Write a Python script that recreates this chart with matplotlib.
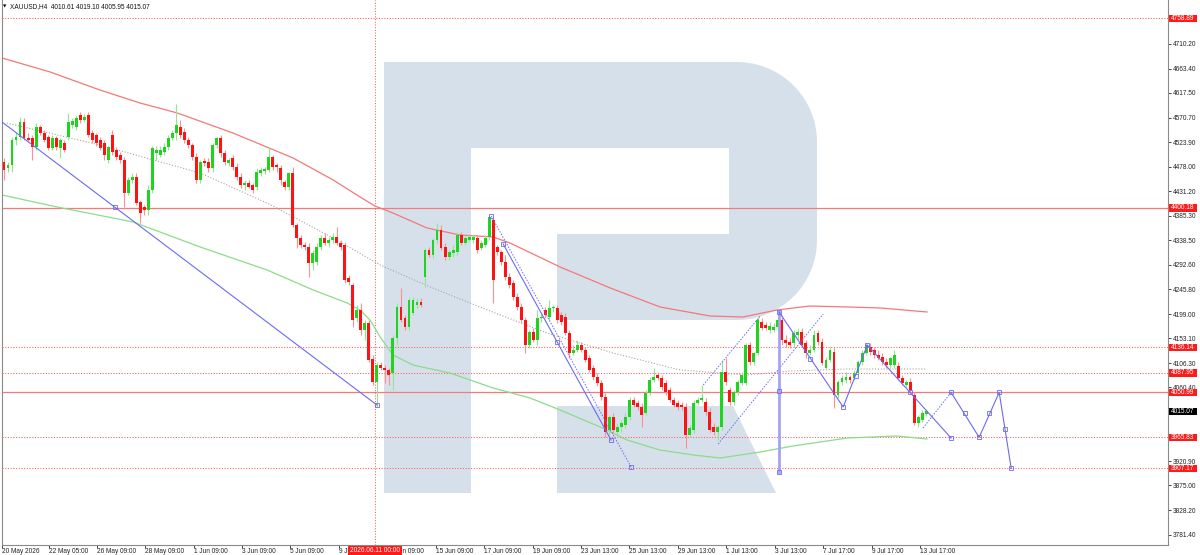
import numpy as np
import matplotlib
matplotlib.use("Agg")
import matplotlib.pyplot as plt
from matplotlib.patches import Rectangle, Polygon
from matplotlib.transforms import IdentityTransform

plt.rcParams['font.family'] = ['Liberation Sans', 'DejaVu Sans']

# ---------------- data ----------------
symbol = "XAUUSD,H4"
header_ohlc = ["4010.61", "4019.10", "4005.95", "4015.07"]

opens = [4487.0, 4475.6, 4481.3, 4528.6, 4534.3, 4562.6, 4532.4, 4532.4, 4515.3, 4553.2,
         4541.8, 4534.3, 4513.5, 4532.4, 4513.5, 4522.9, 4534.3, 4557.0, 4553.2, 4575.9,
         4566.4, 4575.9, 4541.8, 4538.0, 4528.6, 4522.9, 4490.7, 4538.0, 4509.7, 4500.2,
         4490.7, 4428.3, 4452.9, 4458.6, 4411.3, 4401.9, 4396.2, 4434.0, 4504.0, 4500.2,
         4505.9, 4515.3, 4532.4, 4541.8, 4553.2, 4543.7, 4528.6, 4519.1, 4496.4, 4452.9,
         4488.9, 4487.0, 4475.6, 4519.1, 4532.4, 4504.0, 4485.1, 4494.5, 4477.5, 4458.6,
         4443.5, 4447.2, 4443.5, 4439.7, 4466.2, 4469.9, 4471.8, 4496.4, 4481.3, 4475.6,
         4449.1, 4439.7, 4466.2, 4367.8, 4343.2, 4330.0, 4326.2, 4295.9, 4297.8, 4326.2,
         4343.2, 4333.7, 4339.4, 4345.1, 4333.7, 4330.0, 4267.5, 4254.3, 4191.8, 4207.0,
         4169.1, 4182.4, 4114.3, 4070.8, 4102.9, 4097.3, 4093.5, 4087.8, 4154.0, 4212.6,
         4191.8, 4174.8, 4201.3, 4216.4, 4222.1, 4269.4, 4320.5, 4311.0, 4339.4, 4358.4,
         4326.2, 4307.2, 4314.8, 4316.7, 4348.9, 4333.7, 4339.4, 4339.4, 4343.2, 4324.3,
         4330.0, 4345.1, 4377.3, 4326.2, 4316.7, 4297.8, 4269.4, 4258.1, 4231.6, 4212.6,
         4188.0, 4140.8, 4165.4, 4150.2, 4191.8, 4207.0, 4193.7, 4210.8, 4210.8, 4197.5,
         4193.7, 4163.5, 4125.6, 4131.3, 4140.8, 4131.3, 4116.2, 4097.3, 4080.2, 4068.9,
         4042.4, 3979.9, 4004.6, 3976.2, 3985.6, 3989.4, 4004.6, 4036.7, 4031.0, 4023.5,
         4012.1, 4050.0, 4074.6, 4084.0, 4078.3, 4068.9, 4055.6, 4036.7, 4031.0, 4027.2,
         4023.5, 3970.5, 3979.9, 4031.0, 4036.7, 4032.9, 4014.0, 3985.6, 3976.2, 3985.6,
         4089.7, 4055.6, 4032.9, 4051.9, 4068.9, 4068.9, 4140.8, 4108.6, 4125.6, 4184.3,
         4178.6, 4169.1, 4169.1, 4174.8, 4188.0, 4150.2, 4146.4, 4144.5, 4159.7, 4165.4,
         4144.5, 4125.6, 4131.3, 4163.5, 4146.4, 4097.3, 4112.4, 4127.5, 4046.2, 4070.8,
         4074.6, 4080.2, 4078.3, 4087.8, 4108.6, 4125.6, 4137.0, 4131.3, 4121.8, 4118.1,
         4108.6, 4102.9, 4102.9, 4101.0, 4078.3, 4065.1, 4070.8, 4046.2, 3993.2, 3998.9,
         4010.61]
highs = [4494.5, 4487.0, 4534.3, 4543.7, 4572.2, 4570.3, 4541.8, 4538.0, 4560.7, 4557.0,
         4547.5, 4538.0, 4538.0, 4536.2, 4532.4, 4528.6, 4579.7, 4570.3, 4575.9, 4581.6,
         4577.8, 4581.6, 4547.5, 4541.8, 4534.3, 4528.6, 4517.2, 4547.5, 4515.3, 4505.9,
         4496.4, 4458.6, 4466.2, 4466.2, 4415.1, 4405.7, 4443.5, 4517.2, 4517.2, 4517.2,
         4522.9, 4538.0, 4547.5, 4596.7, 4566.4, 4551.3, 4534.3, 4522.9, 4504.0, 4490.7,
         4494.5, 4494.5, 4522.9, 4534.3, 4538.0, 4509.7, 4494.5, 4500.2, 4485.1, 4466.2,
         4452.9, 4452.9, 4447.2, 4475.6, 4477.5, 4477.5, 4515.3, 4500.2, 4485.1, 4481.3,
         4452.9, 4468.1, 4477.5, 4371.6, 4348.9, 4335.6, 4333.7, 4320.5, 4333.7, 4348.9,
         4352.7, 4345.1, 4352.7, 4364.0, 4339.4, 4335.6, 4273.2, 4258.1, 4216.4, 4220.2,
         4188.0, 4188.0, 4121.8, 4108.6, 4108.6, 4102.9, 4097.3, 4159.7, 4220.2, 4248.6,
         4197.5, 4229.7, 4231.6, 4229.7, 4229.7, 4324.3, 4326.2, 4343.2, 4371.6, 4367.8,
         4333.7, 4320.5, 4330.0, 4354.5, 4354.5, 4348.9, 4348.9, 4348.9, 4348.9, 4339.4,
         4348.9, 4386.7, 4383.0, 4330.0, 4320.5, 4311.0, 4277.0, 4263.7, 4239.1, 4220.2,
         4193.7, 4169.1, 4172.9, 4207.0, 4203.2, 4212.6, 4225.9, 4216.4, 4216.4, 4203.2,
         4201.3, 4169.1, 4140.8, 4150.2, 4146.4, 4137.0, 4121.8, 4102.9, 4087.8, 4074.6,
         4050.0, 4008.3, 4012.1, 3993.2, 3998.9, 4012.1, 4042.4, 4042.4, 4036.7, 4031.0,
         4055.6, 4080.2, 4097.3, 4089.7, 4084.0, 4074.6, 4061.3, 4042.4, 4036.7, 4032.9,
         4031.0, 3989.4, 4036.7, 4042.4, 4065.1, 4040.5, 4021.6, 3993.2, 3989.4, 4112.4,
         4116.2, 4061.3, 4055.6, 4074.6, 4089.7, 4144.5, 4146.4, 4127.5, 4193.7, 4191.8,
         4184.3, 4184.3, 4182.4, 4203.2, 4197.5, 4159.7, 4154.0, 4169.1, 4172.9, 4172.9,
         4150.2, 4140.8, 4169.1, 4169.1, 4154.0, 4118.1, 4137.0, 4137.0, 4074.6, 4084.0,
         4089.7, 4084.0, 4093.5, 4112.4, 4131.3, 4144.5, 4144.5, 4137.0, 4131.3, 4125.6,
         4116.2, 4118.1, 4131.3, 4108.6, 4084.0, 4074.6, 4078.3, 4051.9, 4008.3, 4017.8,
         4019.10]
lows = [4452.9, 4468.1, 4468.1, 4519.1, 4528.6, 4528.6, 4524.8, 4490.7, 4509.7, 4538.0,
        4524.8, 4509.7, 4509.7, 4509.7, 4494.5, 4505.9, 4528.6, 4551.3, 4547.5, 4560.7,
        4562.6, 4534.3, 4522.9, 4517.2, 4509.7, 4490.7, 4485.1, 4500.2, 4490.7, 4485.1,
        4401.9, 4424.6, 4447.2, 4405.7, 4371.6, 4386.7, 4386.7, 4428.3, 4490.7, 4496.4,
        4500.2, 4509.7, 4528.6, 4528.6, 4532.4, 4522.9, 4513.5, 4490.7, 4447.2, 4447.2,
        4479.4, 4468.1, 4468.1, 4513.5, 4496.4, 4481.3, 4479.4, 4471.8, 4452.9, 4437.8,
        4434.0, 4437.8, 4428.3, 4434.0, 4460.5, 4464.3, 4468.1, 4471.8, 4468.1, 4443.5,
        4434.0, 4434.0, 4364.0, 4324.3, 4324.3, 4320.5, 4269.4, 4282.7, 4292.1, 4320.5,
        4330.0, 4326.2, 4333.7, 4330.0, 4320.5, 4258.1, 4254.3, 4174.8, 4184.3, 4159.7,
        4150.2, 4108.6, 4065.1, 4023.5, 4093.5, 4068.9, 4065.1, 4055.6, 4140.8, 4184.3,
        4169.1, 4169.1, 4197.5, 4210.8, 4212.6, 4250.5, 4307.2, 4305.3, 4333.7, 4320.5,
        4301.6, 4301.6, 4307.2, 4311.0, 4330.0, 4330.0, 4335.6, 4333.7, 4314.8, 4320.5,
        4326.2, 4339.4, 4220.2, 4311.0, 4292.1, 4263.7, 4248.6, 4225.9, 4207.0, 4182.4,
        4125.6, 4135.1, 4146.4, 4140.8, 4184.3, 4191.8, 4188.0, 4203.2, 4182.4, 4178.6,
        4159.7, 4116.2, 4121.8, 4127.5, 4127.5, 4108.6, 4089.7, 4074.6, 4063.2, 4036.7,
        3966.7, 3970.5, 3974.3, 3970.5, 3976.2, 3983.7, 3998.9, 4023.5, 4017.8, 3985.6,
        4008.3, 4046.2, 4070.8, 4074.6, 4055.6, 4046.2, 4032.9, 4023.5, 4017.8, 4017.8,
        3945.9, 3966.7, 3974.3, 4027.2, 4032.9, 4008.3, 3976.2, 3970.5, 3961.0, 3979.9,
        4065.1, 4027.2, 4027.2, 4046.2, 4065.1, 4065.1, 4102.9, 4102.9, 4121.8, 4169.1,
        4169.1, 4163.5, 4165.4, 4169.1, 4140.8, 4137.0, 4135.1, 4137.0, 4150.2, 4137.0,
        4116.2, 4121.8, 4127.5, 4140.8, 4102.9, 4093.5, 4108.6, 4021.6, 4040.5, 4065.1,
        4068.9, 4068.9, 4074.6, 4084.0, 4102.9, 4121.8, 4121.8, 4116.2, 4112.4, 4102.9,
        4097.3, 4097.3, 4097.3, 4074.6, 4065.1, 4061.3, 4051.9, 3989.4, 3985.6, 3995.1,
        4005.95]
closes = [4471.8, 4481.3, 4528.6, 4534.3, 4562.6, 4532.4, 4528.6, 4515.3, 4553.2, 4541.8,
          4528.6, 4513.5, 4532.4, 4515.3, 4528.6, 4509.7, 4562.6, 4564.6, 4570.3, 4566.4,
          4572.2, 4538.0, 4528.6, 4522.9, 4513.5, 4500.2, 4515.3, 4505.9, 4496.4, 4490.7,
          4428.3, 4452.9, 4458.6, 4409.5, 4390.5, 4396.2, 4434.0, 4513.5, 4509.7, 4509.7,
          4515.3, 4532.4, 4541.8, 4557.0, 4538.0, 4528.6, 4519.1, 4496.4, 4452.9, 4487.0,
          4485.1, 4475.6, 4519.1, 4532.4, 4504.0, 4487.0, 4490.7, 4477.5, 4458.6, 4443.5,
          4447.2, 4439.7, 4434.0, 4468.1, 4471.8, 4473.7, 4496.4, 4477.5, 4477.5, 4452.9,
          4439.7, 4466.2, 4367.8, 4343.2, 4330.0, 4326.2, 4295.9, 4314.8, 4326.2, 4343.2,
          4333.7, 4339.4, 4345.1, 4333.7, 4326.2, 4263.7, 4259.9, 4188.0, 4207.0, 4169.1,
          4182.4, 4112.4, 4070.8, 4102.9, 4097.3, 4093.5, 4084.0, 4154.0, 4212.6, 4188.0,
          4174.8, 4225.9, 4225.9, 4222.1, 4216.4, 4320.5, 4311.0, 4339.4, 4358.4, 4324.3,
          4307.2, 4316.7, 4320.5, 4348.9, 4333.7, 4343.2, 4345.1, 4345.1, 4320.5, 4333.7,
          4343.2, 4383.0, 4263.7, 4316.7, 4297.8, 4269.4, 4254.3, 4231.6, 4212.6, 4188.0,
          4140.8, 4165.4, 4150.2, 4191.8, 4193.7, 4197.5, 4210.8, 4212.6, 4188.0, 4184.3,
          4163.5, 4125.6, 4131.3, 4140.8, 4131.3, 4112.4, 4093.5, 4080.2, 4068.9, 4042.4,
          3976.2, 4004.6, 3979.9, 3985.6, 3993.2, 4004.6, 4036.7, 4027.2, 4023.5, 4008.3,
          4050.0, 4074.6, 4080.2, 4078.3, 4061.3, 4051.9, 4036.7, 4027.2, 4023.5, 4023.5,
          3970.5, 3983.7, 4031.0, 4036.7, 4040.5, 4014.0, 3979.9, 3976.2, 3985.6, 4089.7,
          4070.8, 4032.9, 4051.9, 4070.8, 4084.0, 4140.8, 4108.6, 4125.6, 4188.0, 4172.9,
          4172.9, 4176.7, 4174.8, 4188.0, 4150.2, 4144.5, 4140.8, 4163.5, 4165.4, 4140.8,
          4125.6, 4131.3, 4159.7, 4146.4, 4106.7, 4112.4, 4131.3, 4046.2, 4070.8, 4078.3,
          4080.2, 4074.6, 4087.8, 4108.6, 4125.6, 4140.8, 4127.5, 4121.8, 4116.2, 4108.6,
          4102.9, 4116.2, 4121.8, 4078.3, 4068.9, 4070.8, 4055.6, 3993.2, 4004.6, 4012.1,
          4015.07]

# moving averages (bar index, price)
ma_red_bars = [-0.5, 11.5, 23.9, 33.9, 43.2, 57.1, 72.1, 82.1, 88.8, 92.5, 97.0, 105.5,
               113.7, 122.0, 126.2, 138.7, 151.2, 163.6, 176.1, 184.3, 192.8, 201.0,
               210.3, 218.5, 230.2]
ma_red_vals = [4683.7, 4657.2, 4623.2, 4598.6, 4579.7, 4541.8, 4494.5, 4452.9, 4420.8,
               4403.7, 4390.5, 4362.1, 4348.9, 4345.1, 4333.7, 4288.3, 4248.6, 4212.7,
               4195.6, 4193.7, 4207.0, 4214.5, 4212.7, 4210.8, 4203.2]
ma_green_bars = [-0.5, 13.2, 32.2, 48.9, 65.6, 77.1, 85.6, 88.8, 91.3, 93.8, 97.0, 102.0,
                 111.2, 122.0, 131.2, 138.7, 148.7, 155.4, 163.6, 171.9, 178.6, 188.6,
                 196.8, 210.3, 222.7, 230.2]
ma_green_vals = [4424.5, 4401.9, 4373.5, 4326.2, 4282.7, 4244.8, 4220.2, 4207.0, 4188.0,
                 4155.9, 4121.9, 4102.9, 4087.8, 4059.4, 4040.5, 4017.8, 3985.6, 3961.0,
                 3942.1, 3932.7, 3927.0, 3938.3, 3949.7, 3964.8, 3968.6, 3962.9]
ma_gray_bars = [0.7, 23.9, 48.9, 65.6, 82.1, 93.8, 106.3, 118.7, 135.4, 151.9, 168.6,
                185.3, 196.1, 210.3, 230.2]
ma_gray_vals = [4560.7, 4519.1, 4466.2, 4409.4, 4343.2, 4292.1, 4250.5, 4212.6, 4163.5,
                4125.6, 4093.5, 4084.0, 4091.6, 4095.4, 4095.4]

# horizontal levels
solid_levels = [4400.18, 4050.99]
dotted_levels = [4758.89, 4136.14, 4087.95, 3965.83, 3907.17]
level_labels = ["4758.89", "4400.18", "4136.14", "4087.95", "4050.99", "3965.83", "3907.17"]
level_values = [4758.89, 4400.18, 4136.14, 4087.95, 4050.99, 3965.83, 3907.17]
current_price = 4015.07
event_bar = 92.6
event_label = "2026.06.11 00:00"

# y axis ticks
ytick_vals = [4710.20, 4663.40, 4617.50, 4570.70, 4523.90, 4478.00, 4431.20, 4385.30,
              4338.50, 4292.60, 4245.80, 4199.00, 4153.10, 4106.30, 4060.40, 3920.90,
              3875.00, 3828.20, 3781.40]
ytick_labels = ["%.2f" % v for v in ytick_vals]

# x axis ticks
xtick_bars = [-0.5, 11.2, 23.2, 35.2, 47.4, 59.4, 71.3, 83.6, 95.5, 107.8, 119.7, 132.0,
              143.9, 155.9, 168.1, 180.1, 192.3, 204.3, 216.5, 228.5]
xtick_labels = ["20 May 2026", "22 May 05:00", "26 May 09:00", "28 May 09:00", "1 Jun 09:00",
                "3 Jun 09:00", "5 Jun 09:00", "9 Jun 09:00", "11 Jun 09:00", "15 Jun 09:00",
                "17 Jun 09:00", "19 Jun 09:00", "23 Jun 13:00", "25 Jun 13:00",
                "29 Jun 13:00", "1 Jul 13:00", "3 Jul 13:00", "7 Jul 17:00", "9 Jul 17:00",
                "13 Jul 17:00"]

# analyst drawings (bar, price)
trend1_bars, trend1_vals = [-0.5, 93.0], [4562.6, 4027.2]
trend1_mk_bars, trend1_mk_vals = [27.7, 93.0], [4401.9, 4027.2]
fall_solid_bars, fall_solid_vals = [124.5, 151.4], [4331.8, 3961.0]
fall_solid_mk_bars, fall_solid_mk_vals = [124.5, 137.9, 151.4], [4331.8, 4146.4, 3961.0]
fall_dot_bars, fall_dot_vals = [121.5, 156.4], [4384.8, 3910.0]
chan1_bars, chan1_vals = [174.4, 188.6], [4065.1, 4195.6]
chan2_bars, chan2_vals = [178.1, 204.3], [3953.5, 4199.4]
vert_bar, vert_top, vert_bottom, vert_mid = 193.3, 4203.2, 3900.5, 4053.7
zig_bars = [193.3, 209.3, 215.3, 236.2]
zig_vals = [4203.2, 4023.5, 4140.8, 3964.8]
zig_mk_bars = [201.0, 209.3, 212.5, 215.3, 226.0, 236.2]
zig_mk_vals = [4114.3, 4023.5, 4082.1, 4140.8, 4051.9, 3964.8]
fc_dot_bars, fc_dot_vals = [229.2, 236.2], [3983.7, 4051.0]
fc_bars = [236.2, 243.2, 248.2, 251.2]
fc_vals = [4051.0, 3966.0, 4051.0, 3907.2]
fc_mk_bars = [236.2, 239.7, 243.2, 245.7, 248.2, 249.7, 251.2]
fc_mk_vals = [4051.0, 4012.1, 3966.0, 4012.1, 4051.0, 3981.8, 3907.2]

# ---------------- figure ----------------
W, H = 1200, 555
FS = 4.7
fig = plt.figure(figsize=(W / 100, H / 100), dpi=100)
fig.patch.set_facecolor('white')
ax = fig.add_axes([2 / W, 10 / H, 1166 / W, 545 / H])
ax.set_xlim(-0.5, 290.3)
ax.set_ylim(3762.4, 4793.4)
ax.set_facecolor('white')

# watermark (logo), pixel coordinates with y downward
def arc(cx, cy, r, a0, a1, n=24):
    t = np.radians(np.linspace(a0, a1, n))
    return list(zip(cx + r * np.cos(t), cy + r * np.sin(t)))

outer = ([(384, 62)] + arc(737, 142, 80, -90, 0) + arc(737, 240, 80, 0, 90) +
         [(557, 320), (557, 234), (729, 234), (729, 148), (471, 148), (471, 493), (384, 493)])
leg = [(557, 406), (733, 406), (776, 493), (557, 493)]
for shape in (outer, leg):
    pts = [(x, H - y) for x, y in shape]
    ax.add_patch(Polygon(pts, closed=True, transform=IdentityTransform(),
                         fc='#d6e0eb', ec='none', zorder=0.5))

# levels
for lv in solid_levels:
    ax.axhline(lv, color='#f27c7c', lw=0.9, zorder=1)
for lv in dotted_levels:
    ax.axhline(lv, color='#ff5a5a', lw=0.75, ls=(0, (1, 1.6)), zorder=1)
ax.axvline(event_bar, color='#ff5a5a', lw=0.75, ls=(0, (1, 1.6)), zorder=1)

# moving averages
ax.plot(ma_red_bars, ma_red_vals, color='#f47878', lw=0.9, zorder=2)
ax.plot(ma_green_bars, ma_green_vals, color='#8bdc8b', lw=0.9, zorder=2)
ax.plot(ma_gray_bars, ma_gray_vals, color='#a6a6a6', lw=0.8, ls=(0, (1, 1.6)), zorder=2)

# candles
o = np.array(opens); h = np.array(highs); l = np.array(lows); c = np.array(closes)
idx = np.arange(len(c))
up = c >= o
dn = ~up
ax.vlines(idx[up], l[up], h[up], color='#92e692', lw=0.8, zorder=3)
ax.vlines(idx[dn], l[dn], h[dn], color='#ff9090', lw=0.8, zorder=3)
body = np.maximum(np.abs(c - o), 1.5)
bot = np.minimum(o, c)
ax.bar(idx[up], body[up], bottom=bot[up], width=0.72, color='#1ed41e', lw=0, zorder=4)
ax.bar(idx[dn], body[dn], bottom=bot[dn], width=0.72, color='#ff1212', lw=0, zorder=4)

# analyst drawings
BL = '#6b6bf2'
mk = dict(marker='s', ms=2.4, mfc='none', mec=BL, mew=0.6, ls='none', zorder=6)
ax.plot(trend1_bars, trend1_vals, color=BL, lw=0.8, zorder=5)
ax.plot(trend1_mk_bars, trend1_mk_vals, **mk)
ax.plot(fall_solid_bars, fall_solid_vals, color=BL, lw=0.8, zorder=5)
ax.plot(fall_solid_mk_bars, fall_solid_mk_vals, **mk)
ax.plot(fall_dot_bars, fall_dot_vals, color=BL, lw=0.7, ls=(0, (1.5, 1.5)), zorder=5)
ax.plot([fall_dot_bars[0], fall_dot_bars[-1]], [fall_dot_vals[0], fall_dot_vals[-1]], **mk)
ax.plot(chan1_bars, chan1_vals, color=BL, lw=0.7, ls=(0, (1.5, 1.5)), zorder=5)
ax.plot(chan2_bars, chan2_vals, color=BL, lw=0.7, ls=(0, (1.5, 1.5)), zorder=5)
ax.plot([vert_bar, vert_bar], [vert_bottom, vert_top], color='#a3a3f4', lw=2.0, zorder=5)
ax.plot([vert_bar] * 3, [vert_top, vert_mid, vert_bottom], **mk)
ax.plot(zig_bars, zig_vals, color=BL, lw=0.8, zorder=5)
ax.plot(zig_mk_bars, zig_mk_vals, **mk)
ax.plot(fc_dot_bars, fc_dot_vals, color=BL, lw=0.7, ls=(0, (1.5, 1.5)), zorder=5)
ax.plot(fc_bars, fc_vals, color=BL, lw=0.8, zorder=5)
ax.plot(fc_mk_bars, fc_mk_vals, **mk)

# axes styling
for side in ('left', 'right', 'bottom'):
    ax.spines[side].set_color('#8a8a8a')
    ax.spines[side].set_linewidth(0.8)
ax.spines['top'].set_visible(False)

ax.yaxis.tick_right()
ax.set_yticks(ytick_vals)
ax.set_yticklabels(ytick_labels)
ax.tick_params(axis='y', length=2.4, width=0.6, pad=1.2, labelsize=FS,
               colors='#222222')
ax.set_xticks(xtick_bars)
ax.set_xticklabels(xtick_labels)
for t in ax.get_xticklabels():
    t.set_ha('left')
ax.tick_params(axis='x', length=2.0, width=0.6, pad=0.3, labelsize=FS, colors='#222222')

# price boxes on the right axis
def add_box(price, text, fc):
    y = ax.transData.transform((0, price))[1]
    fig.add_artist(Rectangle((1169, y - 3.7), 28, 7.4, transform=IdentityTransform(),
                             fc=fc, ec='none', zorder=10))
    fig.text(1171, y, text, transform=IdentityTransform(), fontsize=FS, color='white',
             va='center', ha='left', zorder=11)

for v, s in zip(level_values, level_labels):
    add_box(v, s, '#ff1a1a')
add_box(current_price, "%.2f" % current_price, '#000000')

# event box on the time axis
xe = ax.transData.transform((event_bar, 0))[0]
fig.add_artist(Rectangle((xe - 27, 0.5), 54, 8.5, transform=IdentityTransform(),
                         fc='#ff1a1a', ec='none', zorder=10))
fig.text(xe, 4.6, event_label, transform=IdentityTransform(), fontsize=FS, color='white',
         va='center', ha='center', zorder=11)

# header
fig.text(3, H - 6.5, "\u25bc", transform=IdentityTransform(), fontsize=3.2,
         family='DejaVu Sans', va='center', ha='left', color='black')
fig.text(10, H - 6.5, symbol + "  " + " ".join(header_ohlc), transform=IdentityTransform(),
         fontsize=FS, va='center', ha='left', color='#111111')

fig.savefig("out.png", dpi=100, facecolor='white')
